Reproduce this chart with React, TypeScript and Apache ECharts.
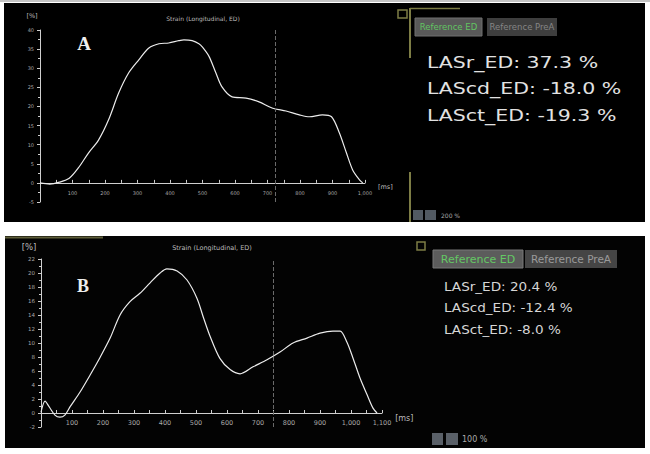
import React, { useEffect, useRef } from "react";
import * as echarts from "echarts";

// Panel A (top) strain curve
const timeA = [0, 30, 60, 90, 118, 149, 180, 211, 242, 273, 304, 335, 366, 396, 427, 443, 468, 489, 500, 520, 541, 560, 591, 634, 674, 714, 757, 798, 829, 869, 897, 921, 943, 962, 983, 993];
const strainA = [0, -0.3, 0.2, 1.2, 3.9, 7.8, 11.2, 16.5, 23.5, 28.8, 32.2, 35.3, 36.4, 36.6, 37.2, 37.4, 37.2, 36.4, 35.5, 33.1, 28.8, 25.1, 22.5, 22.2, 21.2, 19.6, 18.8, 17.8, 17.3, 17.8, 17.3, 13.1, 7.8, 3.4, 0.8, 0];
// Panel B (bottom) strain curve
const timeB = [0, 13, 26, 45, 61, 77, 94, 126, 158, 190, 223, 255, 287, 319, 352, 384, 406, 439, 471, 503, 525, 545, 577, 610, 642, 684, 729, 771, 813, 858, 900, 942, 965, 987, 1006, 1029, 1052, 1071, 1084];
const strainB = [0.1, 1.7, 0.9, -0.3, -0.6, -0.3, 0.9, 3.0, 5.4, 7.9, 10.7, 14.0, 15.9, 17.1, 18.6, 20.0, 20.6, 20.3, 19.0, 16.4, 13.5, 11.0, 7.8, 6.2, 5.6, 6.6, 7.6, 8.7, 10.0, 10.7, 11.4, 11.7, 11.7, 10.1, 7.9, 5.0, 2.6, 0.7, 0];

const markerA = 725;
const markerB = 750;

const resultsA = ["LASr_ED: 37.3 %", "LAScd_ED: -18.0 %", "LASct_ED: -19.3 %"];
const resultsB = ["LASr_ED: 20.4 %", "LAScd_ED: -12.4 %", "LASct_ED: -8.0 %"];
const chartTitle = "Strain (Longitudinal, ED)";

const FONT = "DejaVu Sans";

function fmtMs(v: number) {
  if (v === 0 || v % 100 !== 0) return "";
  return v.toLocaleString("en-US");
}

export default function App() {
  const ref = useRef<HTMLDivElement>(null);
  useEffect(() => {
    if (!ref.current) return;
    const chart = echarts.init(ref.current, undefined, { renderer: "svg" });
    const olive = "#7d7d45";
    const axisColor = "#cfcfcf";
    const lbl = "#a8a8a8";

    const gridA = { left: 40, top: 30, width: 325, height: 172 };
    const gridB = { left: 41, top: 259, width: 341, height: 168 };
    const yRangeA = [-5, 40];
    const yRangeB = [-2, 22];
    // move x axes up to the zero line (so labels follow the axis)
    const offA = -(gridA.height * (0 - yRangeA[0])) / (yRangeA[1] - yRangeA[0]);
    const offB = -(gridB.height * (0 - yRangeB[0])) / (yRangeB[1] - yRangeB[0]);

    const xAxisBase = (idx: number, max: number, fs: number, margin: number, offset: number) => ({
      gridIndex: idx,
      type: "value",
      min: 0,
      max,
      interval: 50,
      offset,
      axisLine: { show: true, onZero: false, lineStyle: { color: axisColor, width: 1 } },
      axisTick: { show: true, inside: true, length: 3, lineStyle: { color: axisColor } },
      axisLabel: { formatter: fmtMs, fontSize: fs, color: lbl, margin, fontFamily: FONT, showMaxLabel: true },
      splitLine: { show: false },
      name: "[ms]",
      nameLocation: "end",
      nameGap: 13,
      nameTextStyle: { fontSize: fs + 1.5, color: "#bbb", fontFamily: FONT, verticalAlign: "top", padding: [1, 0, 0, 0] },
    });
    const yAxisBase = (idx: number, range: number[], interval: number, fs: number) => ({
      gridIndex: idx,
      type: "value",
      min: range[0],
      max: range[1],
      interval,
      axisLine: { show: true, onZero: false, lineStyle: { color: axisColor, width: 1 } },
      axisTick: { show: true, length: 3, lineStyle: { color: axisColor } },
      minorTick: { show: true, splitNumber: 2, length: 2, lineStyle: { color: axisColor } },
      axisLabel: { fontSize: fs, color: lbl, margin: 6, fontFamily: FONT },
      splitLine: { show: false },
      minorSplitLine: { show: false },
    });

    const markLine = (x: number) => ({
      silent: true,
      symbol: "none",
      label: { show: false },
      lineStyle: { type: "dashed", color: "#6a6a6a", width: 1 },
      data: [{ xAxis: x }],
    });

    const txt = (text: string, x: number, y: number, style: any, extra: any = {}) => ({
      type: "text",
      x,
      y,
      z: 10,
      ...extra,
      style: { text, fontFamily: FONT, verticalAlign: "middle", ...style },
    });
    const rect = (x: number, y: number, w: number, h: number, style: any, z = 5) => ({
      type: "rect",
      z,
      shape: { x, y, width: w, height: h },
      style,
    });
    const line = (x1: number, y1: number, x2: number, y2: number, color: string, w: number) => ({
      type: "line",
      z: 6,
      shape: { x1, y1, x2, y2 },
      style: { stroke: color, lineWidth: w },
    });

    const graphic: any[] = [
      rect(0, 0, 650, 2, { fill: "#c4c4c4" }, -20),
      rect(4, 3, 641, 219, { fill: "#000" }, -10),
      rect(5, 236, 640, 212, { fill: "#030303" }, -10),
      // panel A decorations
      rect(398, 10, 9, 8, { fill: "none", stroke: olive, lineWidth: 1.5 }),
      line(410, 8, 410, 58, olive, 2),
      line(410, 8.5, 460, 8.5, olive, 1.5),
      line(410, 172, 410, 222, olive, 2),
      rect(415, 18, 67, 18, { fill: "#595959", stroke: "#707070", lineWidth: 1 }),
      rect(487, 18, 70, 18, { fill: "#3e3e3e" }),
      txt("Reference ED", 448.5, 27, { fontSize: 8.5, fill: "#62c462", align: "center" }),
      txt("Reference PreA", 522, 27, { fontSize: 8.5, fill: "#858585", align: "center" }),
      ...resultsA.map((t, i) =>
        txt(t, 427, [62, 88, 115][i], { fontSize: 16, fill: "#e2e2e2", align: "left" }, { scaleX: 1.28 })
      ),
      rect(413, 210, 10, 10, { fill: "#525a62" }),
      rect(425, 210, 11, 10, { fill: "#525a62" }),
      txt("200 %", 441, 215, { fontSize: 6, fill: "#aaa", align: "left" }),
      txt("A", 84, 43, { fontSize: 19, fontFamily: "Liberation Serif", fontWeight: "bold", fill: "#eee", align: "center" }),
      txt(chartTitle, 203, 18, { fontSize: 6, fill: "#bbb", align: "center" }),
      txt("[%]", 32, 16, { fontSize: 6.5, fill: "#bbb", align: "center" }),
      // panel B decorations
      line(5, 237.5, 103, 237.5, "#5d5d38", 2),
      rect(417, 242, 8, 8, { fill: "none", stroke: olive, lineWidth: 1.5 }),
      rect(433, 250, 90, 18, { fill: "#5c5c5c", stroke: "#787878", lineWidth: 1 }),
      rect(525, 250, 92, 18, { fill: "#454545" }),
      txt("Reference ED", 478, 259, { fontSize: 11, fill: "#64c864", align: "center" }),
      txt("Reference PreA", 571, 259, { fontSize: 10.5, fill: "#9a9a9a", align: "center" }),
      ...resultsB.map((t, i) =>
        txt(t, 444, [287, 308, 330][i], { fontSize: 11.5, fill: "#d6d6d6", align: "left" }, { scaleX: 1.18 })
      ),
      rect(432, 433, 11, 12, { fill: "#5a6068" }),
      rect(446, 433, 12, 12, { fill: "#5a6068" }),
      txt("100 %", 462, 439.5, { fontSize: 8, fill: "#aaa", align: "left" }),
      txt("B", 83, 286, { fontSize: 18, fontFamily: "Liberation Serif", fontWeight: "bold", fill: "#eee", align: "center" }),
      txt(chartTitle, 212, 248, { fontSize: 6.5, fill: "#bbb", align: "center" }),
      txt("[%]", 29, 247, { fontSize: 8.5, fill: "#bbb", align: "center" }),
    ];

    chart.setOption({
      animation: false,
      backgroundColor: "#fff",
      grid: [gridA, gridB],
      xAxis: [xAxisBase(0, 1000, 5, 8, offA), xAxisBase(1, 1100, 6.5, 6, offB)],
      yAxis: [yAxisBase(0, yRangeA, 5, 5), yAxisBase(1, yRangeB, 2, 5.5)],
      series: [
        {
          type: "line",
          xAxisIndex: 0,
          yAxisIndex: 0,
          data: timeA.map((t, i) => [t, strainA[i]]),
          showSymbol: false,
          smooth: 0.3,
          lineStyle: { color: "#ececec", width: 1.2 },
          markLine: markLine(markerA),
        },
        {
          type: "line",
          xAxisIndex: 1,
          yAxisIndex: 1,
          data: timeB.map((t, i) => [t, strainB[i]]),
          showSymbol: false,
          smooth: 0.3,
          lineStyle: { color: "#ececec", width: 1.2 },
          markLine: markLine(markerB),
        },
      ],
      graphic,
    });
    return () => chart.dispose();
  }, []);
  return (
    <div
      ref={ref}
      style={{ position: "fixed", left: 0, top: 0, width: 650, height: 454 }}
    />
  );
}
